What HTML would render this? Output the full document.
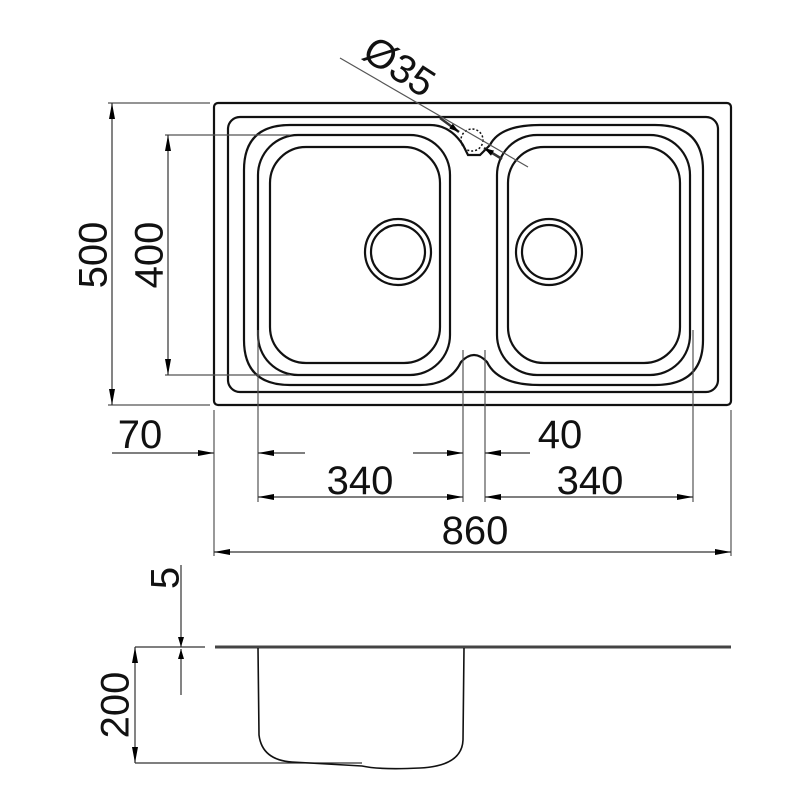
<!DOCTYPE html>
<html><head><meta charset="utf-8"><style>html,body{margin:0;padding:0;background:#fff}svg{display:block}</style></head>
<body>
<svg width="800" height="800" viewBox="0 0 800 800" xmlns="http://www.w3.org/2000/svg" font-family="Liberation Sans, sans-serif">
<defs>
<marker id="a" viewBox="0 0 10 6" refX="10" refY="3" markerWidth="10" markerHeight="6" markerUnits="userSpaceOnUse" orient="auto-start-reverse"><path d="M0,0 L10,3 L0,6 z" fill="#000"/></marker>
<marker id="b" viewBox="0 0 16 6" refX="16" refY="3" markerWidth="16" markerHeight="6" markerUnits="userSpaceOnUse" orient="auto-start-reverse"><path d="M0,0 L16,3 L0,6 z" fill="#000"/></marker>
</defs>
<g fill="none" stroke="#111" stroke-width="2.2">
<rect x="214" y="103" width="517" height="302" rx="4"/>
<rect x="228" y="117" width="490" height="275" rx="12"/>
<path d="M290,125 L430,125 Q450,125 463,145 L468,155 L480,155 L490,145 Q500,125 540,125 L655,125 Q703,125 703,170 L703,340 Q703,385 655,385 L540,385 Q498,385 487,362 Q474,348 461,362 Q450,385 420,385 L290,385 Q244,385 244,340 L244,170 Q244,125 290,125 Z"/>
<rect x="258" y="135" width="192" height="240" rx="40"/>
<rect x="270" y="147" width="170" height="216" rx="36"/>
<rect x="497" y="135" width="193" height="240" rx="40"/>
<rect x="508" y="147" width="172" height="216" rx="36"/>
<circle cx="398" cy="252" r="33"/><circle cx="398" cy="252" r="27"/>
<circle cx="549" cy="252" r="33"/><circle cx="549" cy="252" r="27"/>
</g>
<circle cx="472" cy="140" r="11" fill="none" stroke="#111" stroke-width="1.5" stroke-dasharray="2,2"/>
<g stroke="#555" stroke-width="1.2" fill="none">
<line x1="108" y1="103" x2="210" y2="103"/><line x1="108" y1="405" x2="210" y2="405"/>
<line x1="165" y1="135" x2="290" y2="135"/><line x1="165" y1="375" x2="290" y2="375"/>
<line x1="214" y1="410" x2="214" y2="556"/><line x1="731" y1="410" x2="731" y2="556"/>
<line x1="258" y1="330" x2="258" y2="502"/><line x1="463" y1="350" x2="463" y2="502"/>
<line x1="485" y1="350" x2="485" y2="502"/><line x1="693" y1="330" x2="693" y2="502"/>
<line x1="340" y1="58" x2="528" y2="167"/>
</g>
<g stroke="#333" stroke-width="1.2" fill="none">
<line x1="112" y1="405" x2="112" y2="103" marker-end="url(#b)" marker-start="url(#b)"/>
<line x1="168" y1="375" x2="168" y2="135" marker-end="url(#b)" marker-start="url(#b)"/>
<line x1="112" y1="453" x2="214" y2="453" marker-end="url(#b)"/>
<line x1="305" y1="453" x2="258" y2="453" marker-end="url(#b)"/>
<line x1="413" y1="453" x2="463" y2="453" marker-end="url(#b)"/>
<line x1="530" y1="453" x2="485" y2="453" marker-end="url(#b)"/>
<line x1="258" y1="497" x2="463" y2="497" marker-end="url(#b)" marker-start="url(#b)"/>
<line x1="485" y1="497" x2="693" y2="497" marker-end="url(#b)" marker-start="url(#b)"/>
<line x1="214" y1="552" x2="731" y2="552" marker-end="url(#b)" marker-start="url(#b)"/>
<line x1="440" y1="118" x2="459" y2="132" stroke-width="2.5" marker-end="url(#a)"/>
<line x1="502" y1="159" x2="484" y2="148" stroke-width="2.5" marker-end="url(#a)"/>
<line x1="135" y1="647" x2="205" y2="647"/>
<line x1="135" y1="763" x2="362" y2="763"/>
<line x1="135" y1="763" x2="135" y2="647" marker-end="url(#b)" marker-start="url(#b)"/>
<line x1="181" y1="565" x2="181" y2="647" marker-end="url(#a)"/>
<line x1="181" y1="695" x2="181" y2="649" marker-end="url(#a)"/>
</g>
<line x1="215" y1="647" x2="731" y2="647" stroke="#444" stroke-width="3"/>
<path d="M258,648 L259,735 Q262,760 292,762 L362,766 Q380,770 420,768 Q462,766 463,740 L464,648" fill="none" stroke="#111" stroke-width="1.6"/>
<g font-size="40" fill="#111" text-anchor="middle">
<text x="96" y="255" transform="rotate(-90 96 255)" dominant-baseline="middle">500</text>
<text x="152" y="255" transform="rotate(-90 152 255)" dominant-baseline="middle">400</text>
<text x="140" y="448">70</text>
<text x="560" y="448">40</text>
<text x="360" y="494">340</text>
<text x="590" y="494">340</text>
<text x="475" y="544">860</text>
<text x="168" y="578" transform="rotate(-90 168 578)" dominant-baseline="middle">5</text>
<text x="118" y="705" transform="rotate(-90 118 705)" dominant-baseline="middle">200</text>
<text x="392" y="78" transform="rotate(33 392 78)">Ø35</text>
</g>
</svg>
</body></html>
